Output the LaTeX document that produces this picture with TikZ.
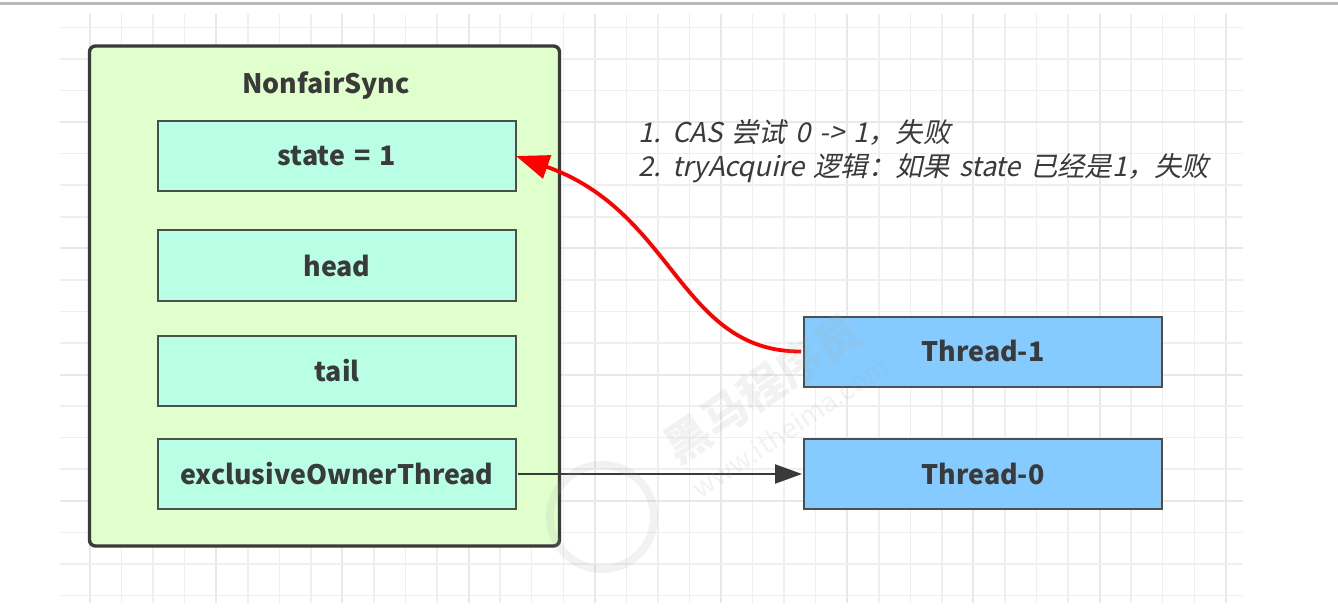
\documentclass[tikz,border=0pt]{standalone}
\usepackage{fontspec}
\setmainfont{Noto Sans CJK SC}
\newfontfamily\slantfont[FakeSlant=0.22,WordSpace=1.5]{Noto Sans CJK SC}
\newfontfamily\widefont[WordSpace=1.5]{Noto Sans CJK SC}
\usetikzlibrary{arrows.meta}
\definecolor{gridthin}{HTML}{EFEFEF}
\definecolor{gridthick}{HTML}{E8E8E8}
\definecolor{inkdark}{HTML}{3A3A3A}
\definecolor{syncfill}{HTML}{DFFFCD}
\definecolor{fieldfill}{HTML}{B9FFE5}
\definecolor{threadfill}{HTML}{85CBFF}
\definecolor{markgray}{HTML}{A8A8A8}
\tikzset{
  x=1pt,y=-1pt,
  gridminor/.style={gridthin,line width=1.5pt},
  gridmajor/.style={gridthick,line width=2pt},
  syncbox/.style={draw=inkdark,line width=3.4pt,fill=syncfill,rounded corners=6pt,minimum width=470pt,minimum height=500pt,inner sep=0pt},
  labelfont/.style={text=inkdark,font=\widefont\fontsize{26.8}{30}\selectfont\bfseries},
  fieldbox/.style={labelfont,draw=inkdark!90,line width=2pt,fill=fieldfill,minimum width=358pt,minimum height=70pt,inner sep=0pt},
  threadbox/.style={labelfont,draw=inkdark!90,line width=2pt,fill=threadfill,minimum width=358pt,minimum height=70pt,inner sep=0pt},
  titletext/.style={labelfont,inner sep=0pt},
  notetext/.style={text=inkdark,font=\slantfont\fontsize{27.3}{34}\selectfont,inner sep=0pt,align=left,anchor=west},
  redcurve/.style={draw=red,line width=3.8pt,-{Triangle[length=33pt,width=24pt,fill=red]}},
  blackline/.style={draw=inkdark,line width=2.2pt,-{Triangle[length=27pt,width=19pt,fill=inkdark]}},
  watermark/.style={text=markgray,text opacity=0.14,inner sep=0pt},
}
\begin{document}
\begin{tikzpicture}
\useasboundingbox (0,0) rectangle (1338,612);
\fill[white] (0,0) rectangle (1338,612);
\draw[line width=2.4pt,color=black!28] (0,3.5) -- (1338,3.5);
% grid
\foreach \i in {0,...,36}{
  \pgfmathsetmacro{\gx}{90+31.55*\i}
  \pgfmathtruncatemacro{\md}{mod(\i,4)}
  \ifnum\md=0 \draw[gridmajor] (\gx,14) -- (\gx,603);
  \else \draw[gridminor] (\gx,14) -- (\gx,603); \fi
}
\foreach \j in {0,...,18}{
  \pgfmathsetmacro{\gy}{27.5+31.55*\j}
  \pgfmathtruncatemacro{\md}{mod(\j+1,4)}
  \ifnum\md=0 \draw[gridmajor] (60,\gy) -- (1243,\gy);
  \else \draw[gridminor] (60,\gy) -- (1243,\gy); \fi
}
% boxes
\node[syncbox] (sync) at (324.5,296) {};
\node[titletext] (title) at (326,85) {NonfairSync};
\node[fieldbox] (state) at (337,156) {state = 1};
\node[fieldbox] (head) at (337,265.5) {head};
\node[fieldbox] (tail) at (337,370.5) {tail};
\node[fieldbox] (owner) at (337,474) {exclusiveOwnerThread};
\node[threadbox] (t1) at (983,351.5) {\raisebox{2pt}{Thread-1}};
\node[threadbox] (t0) at (983,474) {\raisebox{1pt}{Thread-0}};
\node[notetext] (note) at (638,151) {1. CAS 尝试 0 -> 1，失败\\2. tryAcquire 逻辑：如果 state 已经是1，失败};
% connectors
\draw[redcurve] ([xshift=-2pt]t1.west) .. controls (680,352) and (675,212) .. ([xshift=-1pt]state.east);
\draw[blackline] ([xshift=1pt]owner.east) -- ([xshift=-1pt]t0.west);
% watermark
\node[watermark,rotate=34,font=\fontsize{45}{48}\selectfont\bfseries] (markname) at (762,388) {黑马程序员};
\node[watermark,rotate=34,font=\fontsize{27}{30}\selectfont] (markurl) at (790,427) {www.itheima.com};
\draw[markgray,opacity=0.14,line width=8pt] (602,517) circle (52pt);
\end{tikzpicture}
\end{document}
